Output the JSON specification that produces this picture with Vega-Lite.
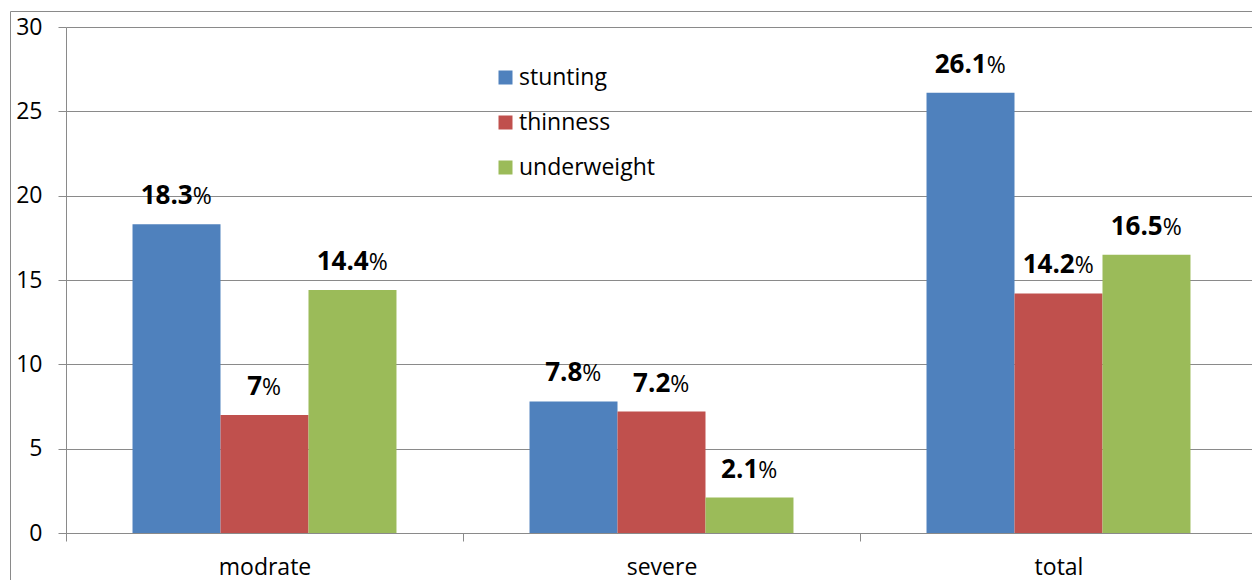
{
  "$schema": "https://vega.github.io/schema/vega-lite/v6.json",
  "width": 1242,
  "height": 569,
  "autosize": {"type": "none"},
  "padding": {"left": 10, "top": 11, "right": 0, "bottom": 0},
  "background": "white",
  "config": {
    "font": "Open Sans",
    "view": {"stroke": "#8a8a8a", "strokeWidth": 1}
  },
  "data": {
    "values": [
      {"category": "modrate", "series": "stunting", "value": 18.3},
      {"category": "modrate", "series": "thinness", "value": 7},
      {"category": "modrate", "series": "underweight", "value": 14.4},
      {"category": "severe", "series": "stunting", "value": 7.8},
      {"category": "severe", "series": "thinness", "value": 7.2},
      {"category": "severe", "series": "underweight", "value": 2.1},
      {"category": "total", "series": "stunting", "value": 26.1},
      {"category": "total", "series": "thinness", "value": 14.2},
      {"category": "total", "series": "underweight", "value": 16.5}
    ]
  },
  "encoding": {
    "x": {
      "field": "category",
      "type": "nominal",
      "sort": ["modrate", "severe", "total"],
      "scale": {"range": [56, 1247], "paddingInner": 0, "paddingOuter": 0},
      "axis": {
        "title": null,
        "orient": "bottom",
        "offset": -47,
        "grid": false,
        "tickBand": "extent",
        "tickSize": 8,
        "tickColor": "#8a8a8a",
        "domainColor": "#8a8a8a",
        "labelFontSize": 23,
        "labelColor": "#000000",
        "labelPadding": 15,
        "labelAngle": 0
      }
    },
    "xOffset": {
      "field": "series",
      "type": "nominal",
      "sort": ["stunting", "thinness", "underweight"],
      "scale": {"paddingInner": 0, "paddingOuter": 0.756}
    },
    "y": {
      "field": "value",
      "type": "quantitative",
      "scale": {"domain": [0, 30], "range": [522, 16], "nice": false, "zero": true},
      "axis": {
        "title": null,
        "orient": "left",
        "offset": -56,
        "values": [0, 5, 10, 15, 20, 25, 30],
        "grid": true,
        "gridColor": "#8a8a8a",
        "gridWidth": 1,
        "tickSize": 8,
        "tickColor": "#8a8a8a",
        "domainColor": "#8a8a8a",
        "labelFontSize": 23,
        "labelColor": "#000000",
        "labelPadding": 16
      }
    }
  },
  "layer": [
    {
      "mark": {"type": "bar"},
      "encoding": {
        "color": {
          "field": "series",
          "type": "nominal",
          "scale": {
            "domain": ["stunting", "thinness", "underweight"],
            "range": ["#4f81bd", "#c0504d", "#9bbb59"]
          },
          "legend": {
            "title": null,
            "orient": "none",
            "legendX": 484,
            "legendY": 55,
            "symbolType": "square",
            "symbolSize": 196,
            "symbolStrokeWidth": 0,
            "labelFontSize": 23,
            "labelColor": "#000000",
            "labelOffset": 2,
            "rowPadding": 21,
            "padding": 0
          }
        }
      }
    },
    {
      "mark": {
        "type": "text",
        "align": "right",
        "baseline": "alphabetic",
        "fontWeight": "bold",
        "fontSize": 26,
        "color": "#000000",
        "dy": -20,
        "dx": {"expr": "(14.87*length(replace(''+datum.value,'.','')) + (indexof(''+datum.value,'.')>=0 ? 7.5 : 0) - 19.7)/2"}
      },
      "encoding": {
        "text": {"field": "value", "type": "nominal"}
      }
    },
    {
      "mark": {
        "type": "text",
        "align": "left",
        "baseline": "alphabetic",
        "fontSize": 23,
        "color": "#000000",
        "dy": -20,
        "dx": {"expr": "(14.87*length(replace(''+datum.value,'.','')) + (indexof(''+datum.value,'.')>=0 ? 7.5 : 0) - 19.7)/2"}
      },
      "encoding": {
        "text": {"value": "%"}
      }
    }
  ]
}
